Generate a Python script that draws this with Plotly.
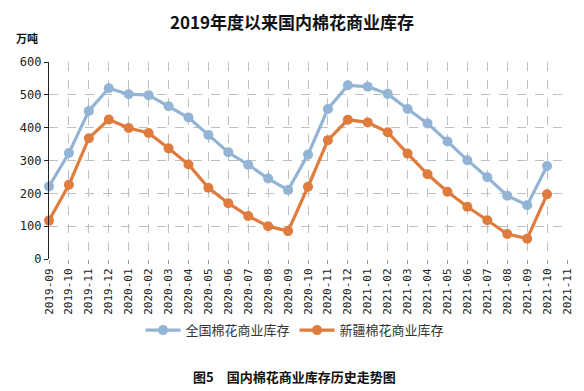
import plotly.graph_objects as go

months = ["2019-09","2019-10","2019-11","2019-12","2020-01","2020-02","2020-03","2020-04",
          "2020-05","2020-06","2020-07","2020-08","2020-09","2020-10","2020-11","2020-12",
          "2021-01","2021-02","2021-03","2021-04","2021-05","2021-06","2021-07","2021-08",
          "2021-09","2021-10","2021-11"]
national = [221, 323, 451, 520, 502, 499, 465, 431, 378, 325, 287, 245, 210,
            318, 457, 529, 525, 503, 457, 413, 358, 301, 249, 193, 164, 283]
xinjiang = [117, 226, 368, 425, 399, 384, 337, 288, 217, 170, 131, 100, 85,
            220, 362, 424, 416, 386, 321, 258, 205, 159, 118, 76, 62, 197]
yticks = [0, 100, 200, 300, 400, 500, 600]

BLUE = "#93B4D5"
ORANGE = "#DF7B3D"
CJK = "Noto Sans CJK SC"
MONO = "DejaVu Sans Mono"

fig = go.Figure()
fig.add_trace(go.Scatter(x=months[:len(national)], y=national, name="全国棉花商业库存",
                         mode="lines+markers", line=dict(color=BLUE, width=3.2),
                         marker=dict(color=BLUE, size=10), cliponaxis=False))
fig.add_trace(go.Scatter(x=months[:len(xinjiang)], y=xinjiang, name="新疆棉花商业库存",
                         mode="lines+markers", line=dict(color=ORANGE, width=3.2),
                         marker=dict(color=ORANGE, size=10), cliponaxis=False))

# the page body adds an 8px offset, so the canvas is sized to fit the window
fig.update_layout(
    width=576, height=383,
    margin=dict(l=41, r=17, t=54, b=132, autoexpand=False),
    paper_bgcolor="white", plot_bgcolor="white",
    showlegend=True,
    legend=dict(orientation="h", x=0.475, xanchor="center", y=-0.285, yanchor="top",
                font=dict(family=CJK, size=13, color="#333333"),
                itemwidth=35, tracegroupgap=0),
    title=dict(text="<b>2019年度以来国内棉花商业库存</b>", x=0.493, xanchor="center",
               y=0.96, yanchor="middle", font=dict(family=CJK, size=17, color="#111111")),
    xaxis=dict(type="category", categoryorder="array", categoryarray=months,
               range=[0, len(months) - 1], tickvals=months, ticktext=months,
               tickangle=-90, tickfont=dict(family=MONO, size=11, color="#222222"),
               showgrid=True, gridcolor="#BFBFBF", griddash="dash", gridwidth=1,
               showline=False, zeroline=False, ticks="outside", ticklen=4,
               tickcolor="#999999", automargin=False),
    yaxis=dict(range=[0, 600], tickvals=yticks, tickfont=dict(family=MONO, size=12, color="#222222"),
               showgrid=True, gridcolor="#BFBFBF", griddash="dash", gridwidth=1,
               showline=True, linecolor="#222222", linewidth=1.3, zeroline=False,
               ticks="outside", ticklen=4, tickcolor="#222222", automargin=False),
)

fig.add_annotation(text="<b>万吨</b>", xref="paper", yref="paper", x=-0.068, y=1.122,
                   xanchor="left", yanchor="middle", showarrow=False,
                   font=dict(family=CJK, size=11, color="#111111"))
fig.add_annotation(text="<b>图5　国内棉花商业库存历史走势图</b>", xref="paper", yref="paper",
                   x=0.473, y=-0.594, xanchor="center", yanchor="middle", showarrow=False,
                   font=dict(family=CJK, size=13, color="#111111"))

fig.write_html("out.html")
